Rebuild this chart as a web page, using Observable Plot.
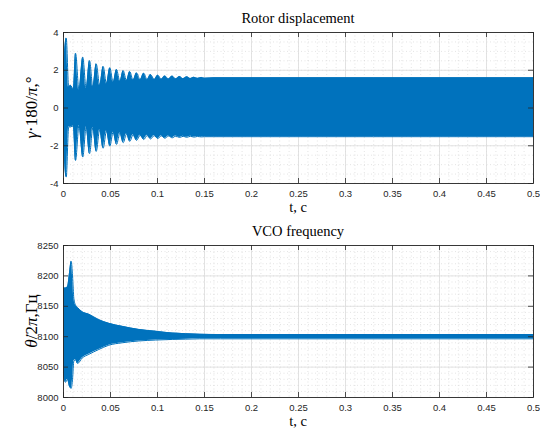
<!DOCTYPE html>
<html><head><meta charset="utf-8">
<script src="https://cdn.jsdelivr.net/npm/d3@7"></script>
<script src="https://cdn.jsdelivr.net/npm/@observablehq/plot@0.6"></script>
<style>
html,body{margin:0;padding:0;background:#fff;}
#chart{width:540px;height:429px;position:relative;overflow:hidden;}
#chart svg{display:block;}
</style></head><body><div id="chart"></div>
<script>
// ---- tick values / labels ----
const xMajor = [0, 0.05, 0.1, 0.15, 0.2, 0.25, 0.3, 0.35, 0.4, 0.45, 0.5];
const xTickLabels = ["0", "0.05", "0.1", "0.15", "0.2", "0.25", "0.3", "0.35", "0.4", "0.45", "0.5"];
const rotorYMajor = [-4, -2, 0, 2, 4];
const rotorYLabels = ["-4", "-2", "0", "2", "4"];
const vcoYMajor = [8000, 8050, 8100, 8150, 8200, 8250];
const vcoYLabels = ["8000", "8050", "8100", "8150", "8200", "8250"];

// ---- rotor displacement envelope ----
const rotorT = [0, 0.0029, 0.0055, 0.0075, 0.0105, 0.0128, 0.0165, 0.0205, 0.0241, 0.0277, 0.0312, 0.0348,
  0.0385, 0.0422, 0.0457, 0.0493, 0.0528, 0.0564, 0.06, 0.0635, 0.067, 0.0705, 0.074, 0.0777, 0.0815, 0.0854,
  0.089, 0.0926, 0.0965, 0.1003, 0.104, 0.1078, 0.1117, 0.1156, 0.1195, 0.1234, 0.1273, 0.1312, 0.135, 0.1386,
  0.1425, 0.1465, 0.15, 0.16, 0.5];
const rotorUpper = [2.0, 3.71, 1.1, 1.2, 1.0, 2.9, 0.93, 2.69, 1.03, 2.51, 1.1, 2.34,
  1.2, 2.2, 1.28, 2.13, 1.35, 2.04, 1.4, 1.98, 1.45, 1.93, 1.48, 1.86, 1.5, 1.84,
  1.5, 1.77, 1.51, 1.74, 1.52, 1.70, 1.53, 1.69, 1.54, 1.67, 1.55, 1.65, 1.56, 1.63,
  1.57, 1.62, 1.58, 1.6, 1.6];
const rotorLower = [-1.5, -3.66, -1.0, -1.0, -0.95, -2.78, -0.93, -2.6, -1.0, -2.42, -1.05, -2.3,
  -1.15, -2.13, -1.22, -2.02, -1.28, -1.93, -1.33, -1.84, -1.38, -1.77, -1.42, -1.72, -1.44, -1.67,
  -1.45, -1.64, -1.46, -1.62, -1.47, -1.6, -1.48, -1.58, -1.49, -1.56, -1.5, -1.55, -1.5, -1.54,
  -1.51, -1.53, -1.52, -1.52, -1.52];

// ---- VCO frequency envelope ----
const vcoT = [0, 0.0021, 0.0043, 0.0064, 0.0082, 0.0096, 0.011, 0.0128, 0.0149, 0.0199, 0.0269, 0.0376,
  0.0482, 0.0624, 0.0801, 0.0979, 0.1156, 0.1298, 0.145, 0.167, 0.5];
const vcoUpper = [8180, 8180, 8182, 8205, 8224, 8200, 8163, 8152, 8148, 8141, 8137, 8128,
  8122, 8117, 8112, 8109, 8106, 8105, 8104, 8103.5, 8103.5];
const vcoLower = [8040, 8025, 8030, 8018, 8015, 8030, 8060, 8062, 8056, 8065, 8071, 8079,
  8086, 8090, 8093, 8094.5, 8095.5, 8096, 8096.5, 8096.5, 8096.5];

const BLUE = "#0072BD";
const AX = "#262626";
const SERIF = "'Liberation Serif', 'Times New Roman', serif";

function panel({height, mt, mb, yDomain, yMajor, yLabels, yMinorStep, t, up, lo, title, ylabel}) {
  const W = 540, ml = 63, mr = 7;
  const fh = height - mt - mb, fw = W - ml - mr;
  const xMinor = d3.range(0, 0.5001, 0.01);
  const yMinor = d3.range(yDomain[0], yDomain[1] + 1e-9, yMinorStep);
  const rows = t.map((tt, i) => ({t: tt, up: up[i], lo: lo[i]}));
  const svg = Plot.plot({
    width: W, height,
    marginLeft: ml, marginRight: mr, marginTop: mt, marginBottom: mb,
    style: {fontFamily: "'Liberation Sans', Arial, sans-serif", fontSize: "9.5px", color: AX, background: "#fff", overflow: "visible"},
    x: {domain: [0, 0.5]},
    y: {domain: yDomain},
    marks: [
      Plot.gridX(xMinor, {stroke: "#c8c8c8", strokeOpacity: 1, strokeDasharray: "1,2.5", strokeWidth: 0.5}),
      Plot.gridY(yMinor, {stroke: "#c8c8c8", strokeOpacity: 1, strokeDasharray: "1,2.5", strokeWidth: 0.5}),
      Plot.gridX(xMajor, {stroke: "#dcdcdc", strokeOpacity: 1, strokeWidth: 0.8}),
      Plot.gridY(yMajor, {stroke: "#dcdcdc", strokeOpacity: 1, strokeWidth: 0.8}),
      Plot.areaY(rows, {x: "t", y1: "lo", y2: "up", fill: BLUE, curve: "monotone-x"}),
      Plot.lineY(rows, {x: "t", y: "up", stroke: BLUE, strokeWidth: 1, curve: "monotone-x"}),
      Plot.lineY(rows, {x: "t", y: "lo", stroke: BLUE, strokeWidth: 1, curve: "monotone-x"}),
      // inward ticks on all four sides
      Plot.ruleX(xMajor, {x: d => d, insetTop: fh - 5, stroke: AX, strokeWidth: 0.8}),
      Plot.ruleX(xMajor, {x: d => d, insetBottom: fh - 5, stroke: AX, strokeWidth: 0.8}),
      Plot.ruleY(yMajor, {y: d => d, insetRight: fw - 5, stroke: AX, strokeWidth: 0.8}),
      Plot.ruleY(yMajor, {y: d => d, insetLeft: fw - 5, stroke: AX, strokeWidth: 0.8}),
      Plot.frame({stroke: AX, strokeWidth: 0.9}),
      Plot.axisX(xMajor, {anchor: "bottom", tickSize: 0, tickPadding: 7, label: null, tickFormat: (d, i) => xTickLabels[i]}),
      Plot.axisY(yMajor, {anchor: "left", tickSize: 0, tickPadding: 5, label: null, tickFormat: (d, i) => yLabels[i]})
    ]
  });
  const s = d3.select(svg);
  const cx = ml + fw / 2;
  const txt = (sel, size) => sel.style("font-family", SERIF).style("font-size", size)
    .style("font-weight", "400").style("fill", "#000").style("stroke", "none");
  txt(s.append("text").attr("x", cx).attr("y", mt - 12).attr("text-anchor", "middle")
    .attr("dominant-baseline", "middle"), "14.5px").text(title);
  txt(s.append("text").attr("x", cx).attr("y", mt + fh + 26).attr("text-anchor", "middle")
    .attr("dominant-baseline", "middle"), "14.5px").text("t, c");
  const yl = txt(s.append("text").attr("transform", `translate(33,${mt + fh / 2}) rotate(-90)`)
    .attr("text-anchor", "middle").attr("dominant-baseline", "middle"), "17px");
  ylabel.forEach(([t, it]) => {
    const ts = yl.append("tspan").text(t);
    if (it) ts.style("font-style", "italic");
  });
  return svg;
}

const chart = document.getElementById("chart");
chart.appendChild(panel({
  height: 214, mt: 32, mb: 31, yDomain: [-4, 4], yMajor: rotorYMajor, yLabels: rotorYLabels, yMinorStep: 0.5,
  t: rotorT, up: rotorUpper, lo: rotorLower, title: "Rotor displacement",
  ylabel: [["γ", true], ["·180/", false], ["π", true], [",°", false]]
}));
chart.appendChild(panel({
  height: 215, mt: 31, mb: 32, yDomain: [8000, 8250], yMajor: vcoYMajor, yLabels: vcoYLabels, yMinorStep: 10,
  t: vcoT, up: vcoUpper, lo: vcoLower, title: "VCO frequency",
  ylabel: [["θ\u0307", true], ["/2", false], ["π", true], [",Гц", false]]
}));
</script></body></html>
